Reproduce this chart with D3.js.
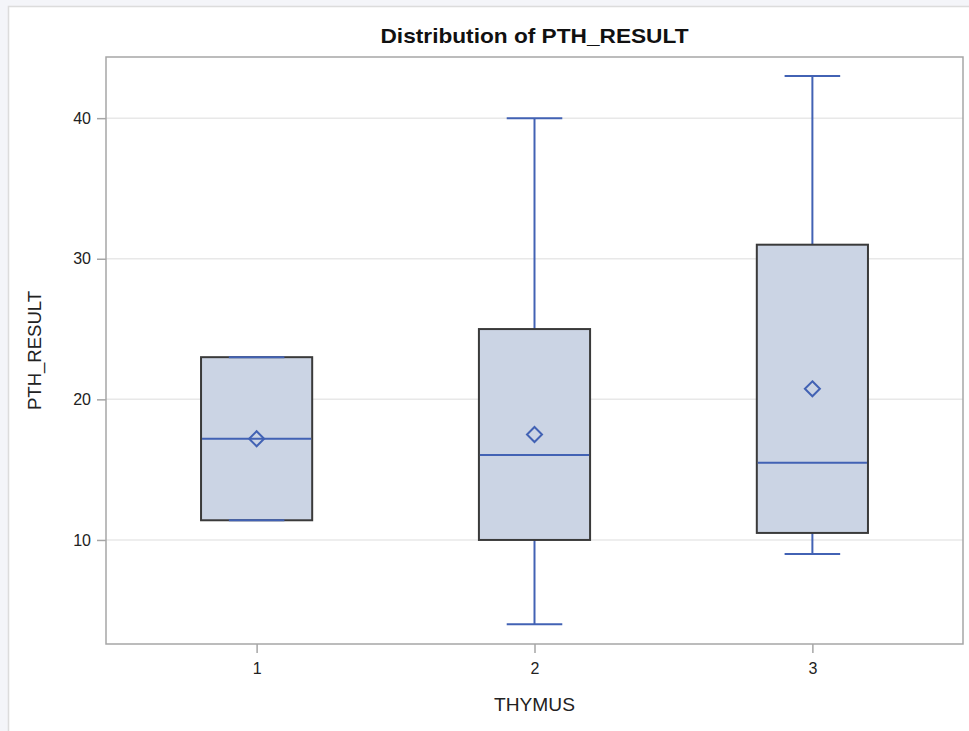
<!DOCTYPE html>
<html>
<head>
<meta charset="utf-8">
<script src="https://cdn.jsdelivr.net/npm/d3@7"></script>
<style>
  html, body { margin: 0; padding: 0; background: #f4f5f9; }
  svg { display: block; }
  text { font-family: "Liberation Sans", Arial, sans-serif; }
</style>
</head>
<body>
<svg id="chart" width="969" height="731"></svg>
<script>
// ---- data ----
const categories = ["1", "2", "3"];
const whiskerLow  = [11.4, 4, 9];
const q1Values    = [11.4, 10, 10.5];
const medians     = [17.2, 16.05, 15.5];
const q3Values    = [23, 25, 31];
const whiskerHigh = [23, 40, 43];
const means       = [17.2, 17.5, 20.75];
const yTicks      = [10, 20, 30, 40];

const titleText = "Distribution of PTH_RESULT";
const xLabel = "THYMUS";
const yLabel = "PTH_RESULT";

// ---- layout ----
const W = 969, H = 731;
const plot = { left: 106, right: 963, top: 57, bottom: 644 };
const blue = "#4262b4";
const boxFill = "#cbd4e4";
const boxStroke = "#3a3a3a";

const svg = d3.select("#chart");

// page panel
svg.append("rect").attr("x", 8.5).attr("y", 6.5).attr("width", W).attr("height", H)
  .attr("fill", "#ffffff").attr("stroke", "#dcdcdc").attr("stroke-width", 1.5);

const x = d3.scalePoint().domain(categories).range([plot.left, plot.right]).padding(0.542);
const y = d3.scaleLinear().domain([2.6, 44.35]).range([plot.bottom, plot.top]);
const step = x.step();
const boxW = step * 0.4;
const capW = boxW * 0.5;

// gridlines
svg.append("g").selectAll("line").data(yTicks).join("line")
  .attr("x1", plot.left).attr("x2", plot.right)
  .attr("y1", d => y(d)).attr("y2", d => y(d))
  .attr("stroke", "#e8e8e8").attr("stroke-width", 1.5);

const data = categories.map((c, i) => ({
  c, lo: whiskerLow[i], q1: q1Values[i], med: medians[i], q3: q3Values[i], hi: whiskerHigh[i], mean: means[i]
}));

const g = svg.append("g");
data.forEach(d => {
  const cx = x(d.c);
  g.append("line").attr("x1", cx).attr("x2", cx).attr("y1", y(d.q3)).attr("y2", y(d.hi))
    .attr("stroke", blue).attr("stroke-width", 2);
  g.append("line").attr("x1", cx).attr("x2", cx).attr("y1", y(d.q1)).attr("y2", y(d.lo))
    .attr("stroke", blue).attr("stroke-width", 2);
  g.append("rect").attr("x", cx - boxW / 2).attr("y", y(d.q3))
    .attr("width", boxW).attr("height", y(d.q1) - y(d.q3))
    .attr("fill", boxFill).attr("stroke", boxStroke).attr("stroke-width", 2);
  [d.lo, d.hi].forEach(v => {
    g.append("line").attr("x1", cx - capW / 2).attr("x2", cx + capW / 2)
      .attr("y1", y(v)).attr("y2", y(v))
      .attr("stroke", blue).attr("stroke-width", 2);
  });
  g.append("line").attr("x1", cx - boxW / 2 + 1).attr("x2", cx + boxW / 2 - 1)
    .attr("y1", y(d.med)).attr("y2", y(d.med))
    .attr("stroke", blue).attr("stroke-width", 2);
  const r = 7.5;
  const my = y(d.mean);
  g.append("path")
    .attr("d", `M${cx},${my - r}L${cx + r},${my}L${cx},${my + r}L${cx - r},${my}Z`)
    .attr("fill", "none").attr("stroke", blue).attr("stroke-width", 2);
});

// frame
svg.append("rect").attr("x", plot.left).attr("y", plot.top)
  .attr("width", plot.right - plot.left).attr("height", plot.bottom - plot.top)
  .attr("fill", "none").attr("stroke", "#a6a6a6").attr("stroke-width", 1.5);

// y axis
const yAxis = svg.append("g").attr("transform", `translate(${plot.left},0)`)
  .call(d3.axisLeft(y).tickValues(yTicks).tickSize(9).tickPadding(6).tickFormat(d3.format("d")));
yAxis.select(".domain").remove();
yAxis.selectAll(".tick line").attr("stroke", "#a6a6a6").attr("stroke-width", 1.5);
yAxis.selectAll(".tick text").attr("font-size", 16).attr("fill", "#222")
  .attr("font-family", "'Liberation Sans', Arial, sans-serif");

// x axis
const xAxis = svg.append("g").attr("transform", `translate(0,${plot.bottom})`)
  .call(d3.axisBottom(x).tickSize(9).tickPadding(10));
xAxis.select(".domain").remove();
xAxis.selectAll(".tick line").attr("stroke", "#a6a6a6").attr("stroke-width", 1.5);
xAxis.selectAll(".tick text").attr("font-size", 16).attr("fill", "#222")
  .attr("font-family", "'Liberation Sans', Arial, sans-serif");

// labels
svg.append("text").attr("x", (plot.left + plot.right) / 2).attr("y", 43)
  .attr("text-anchor", "middle").attr("font-size", 21).attr("font-weight", "bold")
  .attr("textLength", 308).attr("lengthAdjust", "spacingAndGlyphs")
  .attr("fill", "#111").text(titleText);

svg.append("text").attr("x", (plot.left + plot.right) / 2).attr("y", 711)
  .attr("text-anchor", "middle").attr("font-size", 18).attr("fill", "#222")
  .attr("textLength", 81).attr("lengthAdjust", "spacingAndGlyphs").text(xLabel);

svg.append("text").attr("transform", `translate(41,${(plot.top + plot.bottom) / 2}) rotate(-90)`)
  .attr("text-anchor", "middle").attr("font-size", 18).attr("fill", "#222")
  .attr("textLength", 119).attr("lengthAdjust", "spacingAndGlyphs").text(yLabel);
</script>
</body>
</html>
